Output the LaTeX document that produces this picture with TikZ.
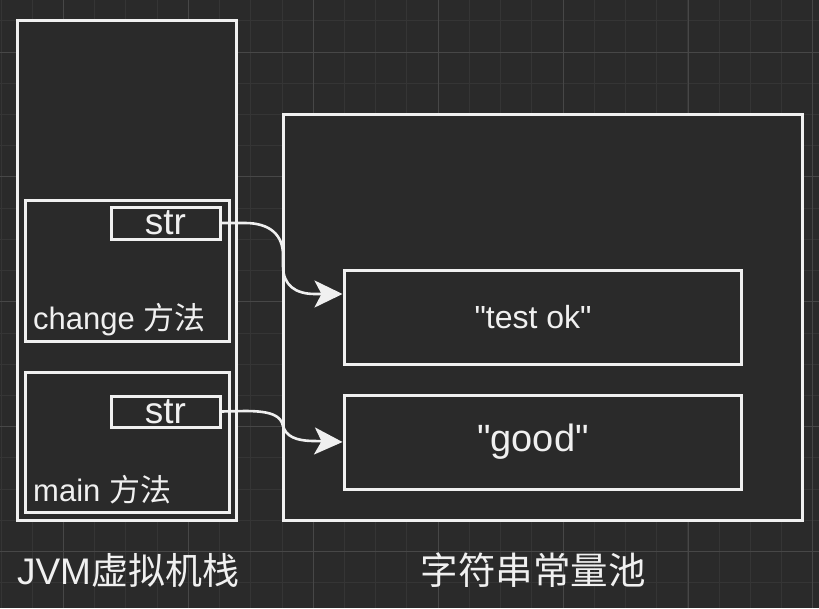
\documentclass[tikz,border=0pt]{standalone}
\usepackage{fontspec}
\setmainfont{Liberation Sans}[Ligatures=TeXOff]
\newfontfamily\cjk{Noto Sans CJK SC}
\usetikzlibrary{arrows.meta,positioning,calc}
\definecolor{bgcol}{HTML}{2A2A2A}
\definecolor{gridminor}{HTML}{353535}
\definecolor{gridmajor}{HTML}{474747}
\definecolor{ink}{HTML}{F0F0F0}

\begin{document}
\begin{tikzpicture}[x=1pt,y=-1pt,
  box/.style={draw=ink,fill=bgcol,line width=3pt,inner sep=0pt,text=ink},
  txt/.style={text=ink,inner sep=0pt},
  link/.style={draw=ink,line width=2.6pt,-{Stealth[length=28pt,width=27pt,inset=7pt]}}]
% background and grid
\fill[bgcol] (0,0) rectangle (819,608);
\useasboundingbox (0,0) rectangle (819,608);
\foreach \k in {0,...,26}
  \draw[gridminor,line width=1pt] (1.1+31.22*\k,0) -- (1.1+31.22*\k,608);
\foreach \k in {0,...,19}
  \draw[gridminor,line width=1pt] (0,20.8+31.22*\k) -- (819,20.8+31.22*\k);
\foreach \k in {0,...,6}
  \draw[gridmajor,line width=1pt] (63.5+124.9*\k,0) -- (63.5+124.9*\k,608);
\foreach \k in {0,...,4}
  \draw[gridmajor,line width=1pt] (0,52+124.9*\k) -- (819,52+124.9*\k);

% stack side
\node[box,minimum width=219pt,minimum height=500pt] (jvm) at (126.5,270) {};
\node[box,minimum width=204pt,minimum height=141pt] (changefr) at (127,270.5) {};
\node[box,minimum width=204pt,minimum height=140pt] (mainfr) at (127,442) {};
\node[box,minimum width=109pt,minimum height=32pt,font=\fontsize{37}{40}\selectfont] (strc) at (165.5,223) {str};
\node[box,minimum width=109pt,minimum height=31pt,font=\fontsize{37}{40}\selectfont] (strm) at (165.5,411.5) {str};
\node[txt,anchor=west,font=\fontsize{31}{34}\selectfont] (changelbl) at (33,320) {change {\cjk 方法}};
\node[txt,anchor=west,font=\fontsize{31}{34}\selectfont] (mainlbl) at (33,490) {main {\cjk 方法}};

% pool side
\node[box,minimum width=519pt,minimum height=406pt] (pool) at (542.5,317) {};
\node[box,minimum width=397pt,minimum height=94pt] (testok) at (542.5,317) {};
\node[txt,font=\fontsize{32}{36}\selectfont] (testoktxt) at (533,317) {"test ok"};
\node[box,minimum width=397pt,minimum height=94pt] (good) at (542.5,442) {};
\node[txt,font=\fontsize{38}{42}\selectfont] (goodtxt) at (533,442) {"good"};

% captions
\node[txt,font=\fontsize{37}{40}\selectfont] (jvmcap) at (128,570) {JVM{\cjk 虚拟机栈}};
\node[txt,font=\fontsize{37.5}{40}\selectfont\cjk] (poolcap) at (533,570) {字符串常量池};

% references
\coordinate (tip1) at ($(testok.west)+(0,-23)$);
\path[link]
(strc.east) -- (245,223) .. controls (270,223) and (283,235) .. (283,255) -- (283,266)
  .. controls (283,285) and (295,294) .. (315,294) -- (tip1);
\path[link]
(strm.east) -- (245,411) .. controls (272,411) and (281,416) .. (283,426)
  .. controls (286,436) and (295,441) .. (315,441) -- (good.west);
\end{tikzpicture}
\end{document}
